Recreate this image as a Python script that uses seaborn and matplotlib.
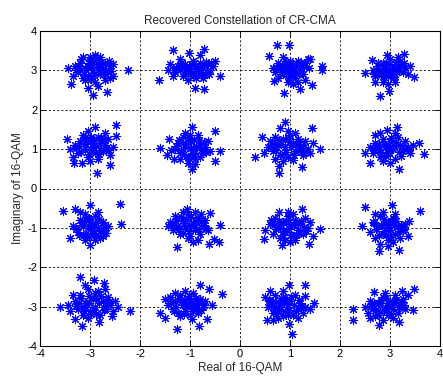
import matplotlib
matplotlib.use("Agg")
import matplotlib.pyplot as plt
import seaborn as sns
import pandas as pd

title = "Recovered Constellation of CR-CMA"
xlabel = "Real of 16-QAM"
ylabel = "Imaginary of 16-QAM"
ticks = [-4, -3, -2, -1, 0, 1, 2, 3, 4]

pts_m3_p3 = [(-3.45,3.05),(-3.30,3.10),(-3.25,2.95),(-3.20,3.20),(-3.15,3.35),(-3.10,3.05),(-3.05,2.85),(-3.00,3.25),(-2.95,3.00),(-2.90,3.40),(-2.85,3.15),(-2.80,2.90),(-2.75,3.05),(-2.70,3.20),(-2.65,2.95),(-2.60,3.10),(-2.55,2.85),(-3.35,2.85),(-3.10,2.75),(-2.90,2.70),(-2.70,2.75),(-3.00,3.35),(-2.80,3.35),(-3.15,2.80),(-2.95,3.15),(-3.05,3.10),(-2.85,3.00),(-3.20,3.00),(-2.60,2.80),(-2.55,3.15),(-2.25,3.00),(-3.38,2.65),(-2.95,2.37),(-2.67,2.45),(-2.85,2.60),(-3.05,2.55)]
core_m3_p3 = [(-3.22,3.12),(-3.12,2.92),(-3.02,3.18),(-2.92,2.88),(-2.82,3.08),(-2.72,2.92),(-3.08,3.02),(-2.98,2.78),(-2.88,3.28),(-2.78,3.22),(-3.18,3.28),(-2.68,3.02),(-2.98,3.08),(-3.28,3.02),(-2.62,3.25),(-2.58,2.98)]
pts_m1_p3 = [(-1.35,3.52),(-1.03,3.45),(-0.73,3.54),(-0.80,3.40),(-1.20,3.30),(-1.40,3.15),(-1.45,3.00),(-1.30,2.95),(-1.25,3.10),(-1.10,3.15),(-1.05,2.95),(-1.00,3.05),(-0.95,2.85),(-0.90,3.10),(-0.85,2.95),(-0.80,3.20),(-0.75,3.05),(-0.70,2.90),(-0.65,3.15),(-0.60,3.00),(-0.55,3.10),(-1.15,2.85),(-1.35,2.85),(-0.95,3.25),(-1.20,3.00),(-0.88,2.80),(-1.05,2.75),(-0.75,2.80),(-1.63,2.75),(-0.90,2.55),(-0.73,2.53),(-0.40,2.86),(-0.50,3.25),(-1.10,2.90),(-0.85,3.05)]
core_m1_p3 = [(-1.28,3.05),(-1.18,3.18),(-1.08,3.02),(-0.98,2.92),(-0.92,3.18),(-0.82,3.02),(-0.72,3.12),(-0.62,2.92),(-1.12,3.08),(-1.02,3.12),(-0.88,2.98),(-0.78,2.88),(-0.68,3.22),(-1.32,3.02),(-0.58,3.18)]
pts_p1_p3 = [(0.73,3.64),(0.97,3.64),(0.57,3.37),(1.63,3.11),(1.63,3.00),(0.87,2.43),(1.20,2.53),(1.43,2.62),(0.67,2.72),(0.75,3.20),(0.80,3.05),(0.85,2.90),(0.90,3.15),(0.95,3.00),(1.00,2.85),(1.05,3.10),(1.10,2.95),(1.15,3.25),(1.20,3.05),(1.25,2.90),(1.30,3.20),(1.35,3.30),(1.40,3.30),(0.70,2.95),(0.75,2.80),(0.95,2.70),(1.05,2.65),(1.10,2.80),(0.85,3.35),(1.00,3.25),(0.92,2.95),(1.02,3.00),(1.15,2.70),(1.30,2.75),(0.65,3.05)]
core_p1_p3 = [(0.78,3.12),(0.88,3.02),(0.98,3.12),(1.08,3.02),(1.18,2.92),(1.28,3.08),(0.82,2.92),(0.92,3.22),(1.02,2.92),(1.12,3.18),(1.22,3.18),(0.72,3.08),(1.38,3.05),(0.98,2.80),(1.08,2.88),(0.88,3.12)]
pts_p3_p3 = [(3.27,3.41),(2.93,3.40),(2.63,3.27),(2.50,2.94),(2.80,2.35),(2.97,2.48),(3.40,3.12),(3.47,2.82),(2.65,3.00),(2.70,2.85),(2.75,3.10),(2.80,2.95),(2.85,3.20),(2.90,3.05),(2.95,2.85),(3.00,3.15),(3.05,3.00),(3.10,2.90),(3.15,3.10),(3.20,3.25),(3.25,2.95),(3.30,3.05),(2.85,2.70),(2.95,2.65),(3.10,2.70),(2.70,2.70),(3.00,3.30),(3.15,3.35),(2.75,3.20),(3.35,2.90),(2.90,2.95),(3.05,2.80)]
core_p3_p3 = [(2.72,3.02),(2.82,2.88),(2.88,3.12),(2.98,2.98),(3.08,3.08),(3.18,2.98),(3.22,3.12),(2.78,3.02),(3.02,2.92),(3.12,3.22),(2.92,3.18),(3.28,3.18),(2.68,2.92),(3.08,2.82),(2.88,2.82)]

pts_m3_p1 = [(-2.48,1.61),(-2.90,1.55),(-3.47,1.25),(-2.87,0.40),(-2.60,0.59),(-3.33,0.65),(-3.17,0.65),(-2.47,1.34),(-3.40,1.00),(-3.30,1.10),(-3.25,0.90),(-3.20,1.20),(-3.15,1.35),(-3.10,1.00),(-3.05,0.80),(-3.00,1.25),(-2.95,1.05),(-2.90,0.90),(-2.85,1.30),(-2.80,1.15),(-2.75,0.95),(-2.70,1.10),(-2.65,1.25),(-2.60,0.85),(-3.05,1.45),(-2.85,0.75),(-3.00,0.70),(-2.70,1.40),(-2.95,1.15),(-3.10,1.15),(-2.55,1.05),(-3.35,0.80)]
core_m3_p1 = [(-3.28,1.02),(-3.18,0.92),(-3.08,1.12),(-2.98,0.98),(-2.88,1.08),(-2.78,0.98),(-2.68,1.02),(-3.12,1.28),(-2.92,1.22),(-2.82,0.88),(-3.02,0.88),(-2.72,1.22),(-3.22,1.08),(-2.98,1.32),(-2.78,1.28),(-2.62,0.98)]
pts_m1_p1 = [(-1.60,1.02),(-0.97,1.57),(-0.50,1.47),(-0.40,0.96),(-0.50,0.70),(-0.97,0.49),(-1.33,0.74),(-1.43,1.25),(-1.47,0.85),(-1.30,1.00),(-1.25,1.15),(-1.20,0.90),(-1.15,1.30),(-1.10,1.05),(-1.05,0.80),(-1.00,1.20),(-0.95,1.00),(-0.90,0.75),(-0.85,1.35),(-0.80,1.10),(-0.75,0.90),(-0.70,1.05),(-0.65,1.20),(-1.10,1.40),(-1.05,0.65),(-0.90,0.62),(-1.20,0.75),(-0.80,0.80),(-1.00,1.35),(-0.60,0.95),(-0.95,0.90),(-1.15,1.15)]
core_m1_p1 = [(-1.28,1.08),(-1.18,0.98),(-1.08,1.12),(-0.98,1.02),(-0.88,1.08),(-0.78,0.98),(-0.72,1.18),(-1.12,0.88),(-0.92,0.88),(-1.02,1.28),(-0.92,1.22),(-1.22,1.22),(-0.82,1.22),(-1.02,0.78),(-0.68,0.92),(-1.38,0.98)]
pts_p1_p1 = [(0.90,1.70),(0.80,1.54),(1.43,1.54),(0.30,0.81),(0.43,1.32),(0.47,0.89),(0.77,0.39),(0.77,0.57),(1.23,0.55),(1.60,1.00),(0.55,1.05),(0.60,1.20),(0.65,0.95),(0.70,1.30),(0.75,1.10),(0.80,0.85),(0.85,1.25),(0.90,1.05),(0.95,0.80),(1.00,1.35),(1.05,1.15),(1.10,0.95),(1.15,1.25),(1.20,1.05),(1.25,0.85),(1.30,1.20),(1.35,1.00),(1.40,0.90),(0.95,1.45),(1.10,1.40),(0.85,0.70),(1.05,0.72),(0.70,0.75),(1.45,1.15)]
core_p1_p1 = [(0.62,1.05),(0.72,0.98),(0.82,1.12),(0.92,0.92),(1.02,1.05),(1.12,1.12),(1.22,0.92),(0.78,1.22),(0.88,0.88),(0.98,1.18),(1.08,0.85),(1.18,1.18),(1.28,1.05),(0.68,1.12),(1.32,0.92),(0.95,1.28)]
pts_p3_p1 = [(3.13,1.57),(2.93,1.49),(2.70,1.36),(3.57,1.15),(3.67,0.87),(2.50,0.89),(3.17,0.49),(2.60,0.64),(2.60,1.05),(2.65,0.90),(2.70,1.15),(2.75,1.00),(2.80,0.80),(2.85,1.25),(2.90,1.05),(2.95,0.90),(3.00,1.20),(3.05,1.00),(3.10,0.75),(3.15,1.30),(3.20,1.10),(3.25,0.95),(3.30,1.20),(3.35,1.05),(3.40,0.90),(2.85,0.70),(3.00,0.65),(2.80,1.40),(3.10,1.40),(2.95,1.10),(3.45,1.10)]
core_p3_p1 = [(2.72,1.02),(2.82,0.92),(2.88,1.12),(2.98,1.02),(3.08,1.08),(3.18,0.92),(3.28,1.02),(2.78,1.12),(2.92,0.82),(3.02,1.28),(3.12,1.18),(3.22,0.82),(2.68,0.98),(3.38,0.98),(2.98,0.92)]

pts_m3_m1 = [(-3.55,-0.56),(-2.41,-0.39),(-2.39,-0.91),(-3.00,-0.43),(-3.00,-1.44),(-3.40,-1.25),(-3.30,-0.52),(-3.35,-0.95),(-3.25,-1.10),(-3.20,-0.80),(-3.15,-1.20),(-3.10,-0.65),(-3.05,-1.00),(-3.00,-0.85),(-2.95,-1.15),(-2.90,-0.70),(-2.85,-1.00),(-2.80,-1.25),(-2.75,-0.85),(-2.70,-1.05),(-2.65,-0.95),(-3.10,-1.30),(-2.90,-1.30),(-3.20,-0.60),(-2.85,-0.60),(-2.75,-1.20),(-3.05,-0.75),(-2.95,-1.00),(-3.15,-0.95)]
core_m3_m1 = [(-3.28,-1.02),(-3.18,-0.92),(-3.08,-1.12),(-2.98,-0.98),(-2.88,-0.88),(-2.78,-1.08),(-2.72,-0.92),(-3.12,-0.82),(-2.92,-1.12),(-3.02,-0.78),(-2.82,-0.78),(-3.22,-1.18),(-2.68,-1.12),(-3.02,-1.22),(-2.88,-1.18)]
pts_m1_m1 = [(-1.27,-1.48),(-0.63,-1.41),(-0.43,-1.36),(-0.53,-1.28),(-0.40,-0.93),(-0.60,-0.62),(-1.07,-0.52),(-1.45,-0.95),(-1.40,-0.85),(-1.35,-1.05),(-1.30,-0.70),(-1.25,-0.95),(-1.20,-1.15),(-1.15,-0.80),(-1.10,-1.00),(-1.05,-0.65),(-1.00,-1.20),(-0.95,-0.90),(-0.90,-1.05),(-0.85,-0.75),(-0.80,-1.15),(-0.75,-0.95),(-0.70,-0.80),(-0.65,-1.05),(-0.90,-0.60),(-1.15,-0.60),(-0.85,-1.30),(-1.05,-1.25),(-0.95,-1.35),(-0.78,-0.65)]
core_m1_m1 = [(-1.32,-0.92),(-1.22,-1.02),(-1.12,-0.88),(-1.02,-1.08),(-0.92,-0.92),(-0.82,-1.02),(-0.72,-0.92),(-1.18,-0.72),(-1.08,-0.78),(-0.98,-0.72),(-0.88,-0.82),(-0.78,-0.82),(-1.28,-0.82),(-1.02,-0.92),(-0.68,-1.02),(-1.15,-1.12)]
pts_p1_m1 = [(1.23,-0.52),(0.77,-0.60),(1.60,-1.02),(0.47,-1.28),(0.83,-1.44),(1.37,-1.41),(0.50,-1.05),(0.60,-0.90),(0.65,-1.15),(0.70,-0.75),(0.75,-1.00),(0.80,-1.25),(0.85,-0.85),(0.90,-1.10),(0.95,-0.70),(1.00,-0.95),(1.05,-1.20),(1.10,-0.80),(1.15,-1.05),(1.20,-0.90),(1.25,-1.15),(1.30,-0.75),(1.35,-1.00),(1.40,-0.85),(1.00,-1.35),(1.10,-1.30),(0.90,-1.30),(0.95,-0.60),(1.05,-0.65),(0.62,-0.80),(1.45,-1.20)]
core_p1_m1 = [(0.72,-1.02),(0.82,-0.92),(0.88,-1.08),(0.98,-1.02),(1.08,-0.92),(1.18,-1.12),(1.28,-0.98),(0.78,-0.82),(0.92,-0.82),(1.02,-1.18),(1.12,-1.18),(1.22,-0.82),(0.68,-0.92),(1.32,-1.08),(0.98,-0.85),(0.85,-1.18)]
pts_p3_m1 = [(2.50,-0.46),(3.03,-0.42),(3.59,-0.58),(2.43,-0.96),(2.77,-1.59),(3.17,-1.56),(3.37,-0.82),(2.60,-1.10),(2.65,-0.85),(2.70,-1.25),(2.75,-0.95),(2.80,-0.70),(2.85,-1.15),(2.90,-0.90),(2.95,-1.30),(3.00,-1.05),(3.05,-0.75),(3.10,-1.15),(3.15,-0.95),(3.20,-1.25),(3.25,-1.05),(3.30,-0.90),(2.85,-0.60),(3.10,-0.65),(2.95,-1.45),(3.05,-1.35),(2.70,-0.65),(2.80,-1.40),(3.35,-1.20),(2.95,-0.85)]
core_p3_m1 = [(2.72,-1.02),(2.82,-0.92),(2.88,-1.08),(2.98,-0.98),(3.08,-0.92),(3.18,-1.08),(3.22,-0.92),(2.78,-1.18),(2.92,-1.18),(3.02,-0.82),(3.12,-0.82),(2.68,-0.88),(3.28,-1.02),(3.02,-1.22),(2.88,-0.78)]

pts_m3_m3 = [(-3.20,-2.24),(-2.93,-2.32),(-2.73,-2.39),(-3.60,-3.00),(-2.20,-3.11),(-2.43,-3.00),(-3.17,-3.49),(-2.83,-3.39),(-3.30,-3.31),(-2.57,-3.24),(-3.45,-2.95),(-3.40,-3.10),(-3.30,-2.85),(-3.25,-3.05),(-3.20,-2.70),(-3.15,-3.20),(-3.10,-2.90),(-3.05,-2.55),(-3.00,-3.10),(-2.95,-2.80),(-2.90,-3.00),(-2.85,-2.60),(-2.80,-3.20),(-2.75,-2.85),(-2.70,-3.05),(-2.65,-2.75),(-2.60,-2.95),(-2.55,-3.10),(-3.10,-2.45),(-2.90,-2.65),(-3.35,-2.70),(-2.70,-2.55),(-3.05,-3.30),(-2.50,-2.85)]
core_m3_m3 = [(-3.22,-2.92),(-3.12,-3.02),(-3.02,-2.92),(-2.92,-3.08),(-2.82,-2.92),(-2.72,-3.08),(-2.62,-2.88),(-3.18,-2.78),(-3.02,-2.72),(-2.88,-2.78),(-2.78,-2.72),(-2.98,-3.18),(-3.28,-2.98),(-2.68,-2.98),(-2.88,-3.18),(-3.12,-3.12)]
pts_m1_m3 = [(-0.80,-2.46),(-0.63,-2.54),(-0.37,-2.68),(-1.60,-3.15),(-1.27,-3.57),(-0.83,-3.50),(-0.67,-3.31),(-0.57,-2.97),(-1.50,-3.29),(-0.97,-3.32),(-1.50,-2.80),(-1.45,-2.95),(-1.40,-2.75),(-1.35,-3.05),(-1.30,-2.85),(-1.25,-3.15),(-1.20,-2.70),(-1.15,-2.95),(-1.10,-3.10),(-1.05,-2.80),(-1.00,-3.00),(-0.95,-2.65),(-0.90,-2.90),(-0.85,-3.15),(-0.80,-2.80),(-0.75,-3.00),(-0.70,-2.85),(-1.20,-3.25),(-1.00,-3.20),(-1.30,-2.65),(-1.10,-2.60),(-0.88,-3.05)]
core_m1_m3 = [(-1.38,-2.92),(-1.28,-3.02),(-1.18,-2.88),(-1.08,-2.98),(-0.98,-2.88),(-0.92,-3.02),(-0.82,-2.92),(-0.78,-3.08),(-1.22,-2.78),(-1.12,-2.82),(-1.02,-2.72),(-0.88,-2.78),(-1.32,-3.12),(-1.12,-3.18),(-0.95,-3.12),(-0.72,-2.95)]
pts_p1_m3 = [(0.97,-2.44),(1.30,-2.46),(1.03,-3.69),(1.47,-2.90),(0.53,-3.33),(1.30,-2.73),(0.97,-3.44),(0.50,-2.75),(0.55,-3.00),(0.60,-2.85),(0.65,-3.15),(0.70,-2.70),(0.75,-3.05),(0.80,-2.90),(0.85,-3.25),(0.90,-2.75),(0.95,-3.00),(1.00,-2.85),(1.05,-3.20),(1.10,-2.70),(1.15,-3.05),(1.20,-2.90),(1.25,-3.15),(1.30,-3.00),(0.60,-2.60),(0.85,-2.60),(0.75,-3.30),(1.15,-3.30),(0.65,-3.35),(1.40,-3.05),(0.90,-3.10)]
core_p1_m3 = [(0.62,-2.95),(0.72,-2.88),(0.78,-3.08),(0.88,-2.92),(0.98,-3.08),(1.08,-2.95),(1.18,-2.82),(0.68,-3.05),(0.82,-2.78),(0.92,-2.85),(1.02,-2.75),(1.12,-3.12),(1.22,-3.02),(0.72,-3.18),(0.95,-3.22),(0.58,-2.82)]
pts_p3_m3 = [(2.25,-3.07),(2.25,-3.34),(3.48,-2.55),(3.23,-2.61),(2.67,-2.63),(2.77,-3.46),(3.17,-3.40),(3.45,-3.09),(2.50,-3.00),(2.55,-3.15),(2.60,-2.85),(2.65,-3.05),(2.70,-3.25),(2.75,-2.90),(2.80,-3.10),(2.85,-2.75),(2.90,-3.00),(2.95,-3.20),(3.00,-2.85),(3.05,-3.05),(3.10,-2.70),(3.15,-3.15),(3.20,-2.95),(3.25,-2.80),(3.30,-3.05),(2.90,-2.65),(3.05,-3.30),(2.85,-3.35),(3.35,-2.70),(2.60,-3.30),(2.95,-2.90)]
core_p3_m3 = [(2.62,-2.98),(2.72,-3.08),(2.78,-2.92),(2.88,-3.08),(2.98,-2.98),(3.08,-2.92),(3.18,-3.02),(3.22,-2.88),(2.82,-2.82),(2.92,-3.12),(3.02,-3.18),(3.12,-2.82),(2.68,-2.92),(3.28,-2.95),(2.92,-2.78),(2.78,-3.22)]

clusters = [pts_m3_p3, core_m3_p3, pts_m1_p3, core_m1_p3, pts_p1_p3, core_p1_p3, pts_p3_p3, core_p3_p3,
            pts_m3_p1, core_m3_p1, pts_m1_p1, core_m1_p1, pts_p1_p1, core_p1_p1, pts_p3_p1, core_p3_p1,
            pts_m3_m1, core_m3_m1, pts_m1_m1, core_m1_m1, pts_p1_m1, core_p1_m1, pts_p3_m1, core_p3_m1,
            pts_m3_m3, core_m3_m3, pts_m1_m3, core_m1_m3, pts_p1_m3, core_p1_m3, pts_p3_m3, core_p3_m3]
rows = [p for c in clusters for p in c]
df = pd.DataFrame(rows, columns=["re", "im"])

sns.set_style("white")
plt.rcParams['font.family'] = ['Liberation Sans', 'DejaVu Sans']

fig = plt.figure(figsize=(4.43, 3.77), dpi=100)
ax = fig.add_axes([40/443, 31/377, 400/443, 315/377])
sns.scatterplot(data=df, x="re", y="im", ax=ax, marker=(8, 2, 0), s=36,
                color="#0000ff", edgecolor="#0000ff", linewidth=0.8, legend=False)
ax.set_xlim(-4, 4)
ax.set_ylim(-4, 4)
ax.set_xticks(ticks)
ax.set_yticks(ticks)
ax.set_xticklabels([str(t) for t in ticks], fontsize=8)
ax.set_yticklabels([str(t) for t in ticks], fontsize=8)
ax.grid(True, color="black", linestyle=(0, (2.5, 2.5)), linewidth=0.6)
ax.set_axisbelow(True)
ax.tick_params(direction="in", length=4, width=0.6, top=True, right=True,
               bottom=True, left=True, pad=2, colors="black")
for sp in ax.spines.values():
    sp.set_color("black")
    sp.set_linewidth(0.8)
ax.set_title(title, fontsize=8.5, pad=5)
ax.set_xlabel(xlabel, fontsize=8.5, labelpad=2)
ax.set_ylabel(ylabel, fontsize=8.5, labelpad=2)
fig.savefig("out.png", dpi=100)
